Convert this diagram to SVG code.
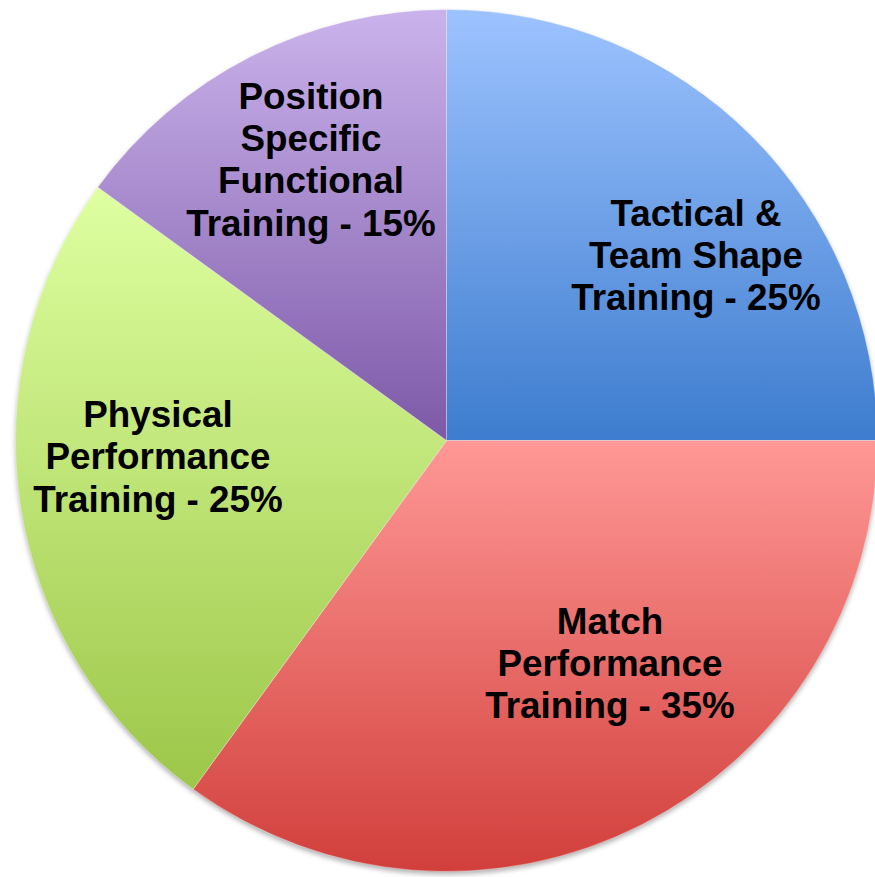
<svg xmlns="http://www.w3.org/2000/svg" width="875" height="877" viewBox="0 0 875 877">
  <style>
    .lbl { font-family: "Liberation Sans", Arial, sans-serif; font-weight: bold; font-size: 36.8px; fill: #000; text-anchor: middle; }
    .slice { stroke: #ffffff; stroke-opacity: 0.35; stroke-width: 1; }
  </style>
  <defs>
    <linearGradient id="gTac" gradientUnits="userSpaceOnUse" x1="0" y1="9.5" x2="0" y2="440.5">
      <stop offset="0" stop-color="#9DC3FF"/>
      <stop offset="1" stop-color="#3D7CCE"/>
    </linearGradient>
    <linearGradient id="gMat" gradientUnits="userSpaceOnUse" x1="0" y1="440.5" x2="0" y2="871.5">
      <stop offset="0" stop-color="#FF9896"/>
      <stop offset="1" stop-color="#D13F3B"/>
    </linearGradient>
    <linearGradient id="gPhy" gradientUnits="userSpaceOnUse" x1="0" y1="187" x2="0" y2="789">
      <stop offset="0" stop-color="#DFFFA1"/>
      <stop offset="1" stop-color="#9CC749"/>
    </linearGradient>
    <linearGradient id="gPos" gradientUnits="userSpaceOnUse" x1="0" y1="9.5" x2="0" y2="440.5">
      <stop offset="0" stop-color="#CAB3EC"/>
      <stop offset="1" stop-color="#7D59A7"/>
    </linearGradient>
    <filter id="shadow" x="-10%" y="-10%" width="120%" height="120%">
      <feGaussianBlur stdDeviation="2.5"/>
    </filter>
  </defs>

  <circle cx="446.5" cy="443.5" r="431" fill="#000" fill-opacity="0.3" filter="url(#shadow)"/>

  <g id="slice-tactical">
    <path class="slice" d="M446.5,440.5 L446.5,9.5 A431,431 0 0 1 877.5,440.5 Z" fill="url(#gTac)"/>
    <text class="lbl" x="696" y="226">Tactical &amp;</text>
    <text class="lbl" x="696" y="268">Team Shape</text>
    <text class="lbl" x="696" y="310">Training - 25%</text>
  </g>
  <g id="slice-match">
    <path class="slice" d="M446.5,440.5 L877.5,440.5 A431,431 0 0 1 193.17,789.19 Z" fill="url(#gMat)"/>
    <text class="lbl" x="610" y="634">Match</text>
    <text class="lbl" x="610" y="676">Performance</text>
    <text class="lbl" x="610" y="718">Training - 35%</text>
  </g>
  <g id="slice-physical">
    <path class="slice" d="M446.5,440.5 L193.17,789.19 A431,431 0 0 1 97.81,187.17 Z" fill="url(#gPhy)"/>
    <text class="lbl" x="158" y="427">Physical</text>
    <text class="lbl" x="158" y="469">Performance</text>
    <text class="lbl" x="158" y="512">Training - 25%</text>
  </g>
  <g id="slice-position">
    <path class="slice" d="M446.5,440.5 L97.81,187.17 A431,431 0 0 1 446.5,9.5 Z" fill="url(#gPos)"/>
    <text class="lbl" x="311" y="109">Position</text>
    <text class="lbl" x="311" y="151">Specific</text>
    <text class="lbl" x="311" y="193">Functional</text>
    <text class="lbl" x="311" y="236">Training - 15%</text>
  </g>
</svg>
